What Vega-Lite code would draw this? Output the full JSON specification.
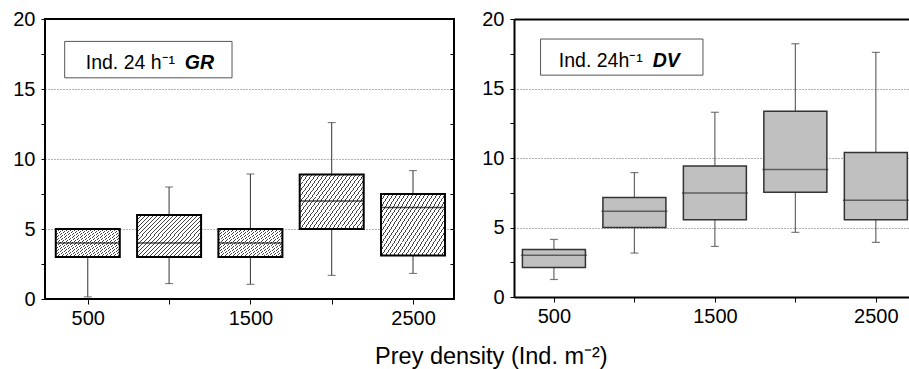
{
  "$schema": "https://vega.github.io/schema/vega-lite/v6.json",
  "background": "white",
  "padding": {"left": 11, "top": 8, "right": 0, "bottom": 0},
  "spacing": 25,
  "datasets": {
    "gr": [
      {"density": 500, "min": 0.15, "q1": 3.0, "median": 4.0, "q3": 5.0, "max": 5.0},
      {"density": 1000, "min": 1.1, "q1": 3.0, "median": 4.0, "q3": 6.0, "max": 8.0},
      {"density": 1500, "min": 1.05, "q1": 3.0, "median": 4.0, "q3": 5.0, "max": 8.93},
      {"density": 2000, "min": 1.69, "q1": 5.0, "median": 7.0, "q3": 8.9, "max": 12.6},
      {"density": 2500, "min": 1.83, "q1": 3.1, "median": 6.53, "q3": 7.5, "max": 9.17}
    ],
    "dv": [
      {"density": 500, "min": 1.26, "q1": 2.12, "median": 3.0, "q3": 3.42, "max": 4.14},
      {"density": 1000, "min": 3.16, "q1": 5.0, "median": 6.17, "q3": 7.15, "max": 8.95},
      {"density": 1500, "min": 3.64, "q1": 5.56, "median": 7.49, "q3": 9.42, "max": 13.29},
      {"density": 2000, "min": 4.65, "q1": 7.54, "median": 9.17, "q3": 13.36, "max": 18.22},
      {"density": 2500, "min": 3.93, "q1": 5.56, "median": 6.96, "q3": 10.4, "max": 17.6}
    ]
  },
  "title": {
    "text": "Prey density (Ind. m⁻²)",
    "orient": "bottom",
    "anchor": "middle",
    "font": "Liberation Sans",
    "fontSize": 23.5,
    "fontWeight": "normal",
    "color": "black",
    "offset": 16,
    "dx": 31
  },
  "hconcat": [
    {
      "width": 409,
      "height": 280,
      "data": {"name": "gr"},
      "view": {"stroke": "black", "strokeWidth": 2},
      "resolve": {"axis": {"x": "independent", "y": "independent"}},
      "layer": [
        {
          "mark": {"type": "rule", "color": "#333", "strokeWidth": 1},
          "encoding": {
            "x": {"field": "density", "type": "quantitative", "scale": {"domain": [237, 2752], "nice": false, "zero": false, "padding": 0}, "axis": null},
            "y": {"field": "min", "type": "quantitative", "scale": {"domain": [0, 20], "nice": false, "padding": 0}, "axis": null},
            "y2": {"field": "q1"}
          }
        },
        {
          "mark": {"type": "rule", "color": "#333", "strokeWidth": 1},
          "encoding": {
            "x": {"field": "density", "type": "quantitative", "scale": {"domain": [237, 2752], "nice": false, "zero": false, "padding": 0}, "axis": null},
            "y": {"field": "q3", "type": "quantitative", "scale": {"domain": [0, 20], "nice": false, "padding": 0},
              "axis": {"orient": "right", "values": [0, 2.5, 5, 7.5, 10, 12.5, 15, 17.5, 20], "labels": false, "domain": false, "grid": false, "tickSize": -4, "title": null}},
            "y2": {"field": "max"}
          }
        },
        {
          "mark": {"type": "tick", "orient": "horizontal", "size": 8, "thickness": 1, "color": "#333"},
          "encoding": {
            "x": {"field": "density", "type": "quantitative", "scale": {"domain": [237, 2752], "nice": false, "zero": false, "padding": 0}, "axis": null},
            "y": {"field": "min", "type": "quantitative", "scale": {"domain": [0, 20], "nice": false, "padding": 0}, "axis": null}
          }
        },
        {
          "mark": {"type": "tick", "orient": "horizontal", "size": 8, "thickness": 1, "color": "#333"},
          "encoding": {
            "x": {"field": "density", "type": "quantitative", "scale": {"domain": [237, 2752], "nice": false, "zero": false, "padding": 0}, "axis": null},
            "y": {"field": "max", "type": "quantitative", "scale": {"domain": [0, 20], "nice": false, "padding": 0}, "axis": null}
          }
        },
        {
          "mark": {
            "type": "bar",
            "size": 64,
            "stroke": "black",
            "strokeWidth": 2,
            "fill": {
              "gradient": "linear", "x1": 0, "y1": 0, "x2": 1.168, "y2": 0.73,
              "stops": [
                {"offset": 0, "color": "#444"}, {"offset": 0.0096, "color": "#444"}, {"offset": 0.0096, "color": "#fff"}, {"offset": 0.03846, "color": "#fff"},
                {"offset": 0.03846, "color": "#444"}, {"offset": 0.04806, "color": "#444"}, {"offset": 0.04806, "color": "#fff"}, {"offset": 0.07692, "color": "#fff"},
                {"offset": 0.07692, "color": "#444"}, {"offset": 0.08652, "color": "#444"}, {"offset": 0.08652, "color": "#fff"}, {"offset": 0.11538, "color": "#fff"},
                {"offset": 0.11538, "color": "#444"}, {"offset": 0.12498, "color": "#444"}, {"offset": 0.12498, "color": "#fff"}, {"offset": 0.15385, "color": "#fff"},
                {"offset": 0.15385, "color": "#444"}, {"offset": 0.16345, "color": "#444"}, {"offset": 0.16345, "color": "#fff"}, {"offset": 0.19231, "color": "#fff"},
                {"offset": 0.19231, "color": "#444"}, {"offset": 0.20191, "color": "#444"}, {"offset": 0.20191, "color": "#fff"}, {"offset": 0.23077, "color": "#fff"},
                {"offset": 0.23077, "color": "#444"}, {"offset": 0.24037, "color": "#444"}, {"offset": 0.24037, "color": "#fff"}, {"offset": 0.26923, "color": "#fff"},
                {"offset": 0.26923, "color": "#444"}, {"offset": 0.27883, "color": "#444"}, {"offset": 0.27883, "color": "#fff"}, {"offset": 0.30769, "color": "#fff"},
                {"offset": 0.30769, "color": "#444"}, {"offset": 0.31729, "color": "#444"}, {"offset": 0.31729, "color": "#fff"}, {"offset": 0.34615, "color": "#fff"},
                {"offset": 0.34615, "color": "#444"}, {"offset": 0.35575, "color": "#444"}, {"offset": 0.35575, "color": "#fff"}, {"offset": 0.38462, "color": "#fff"},
                {"offset": 0.38462, "color": "#444"}, {"offset": 0.39422, "color": "#444"}, {"offset": 0.39422, "color": "#fff"}, {"offset": 0.42308, "color": "#fff"},
                {"offset": 0.42308, "color": "#444"}, {"offset": 0.43268, "color": "#444"}, {"offset": 0.43268, "color": "#fff"}, {"offset": 0.46154, "color": "#fff"},
                {"offset": 0.46154, "color": "#444"}, {"offset": 0.47114, "color": "#444"}, {"offset": 0.47114, "color": "#fff"}, {"offset": 0.5, "color": "#fff"},
                {"offset": 0.5, "color": "#444"}, {"offset": 0.5096, "color": "#444"}, {"offset": 0.5096, "color": "#fff"}, {"offset": 0.53846, "color": "#fff"},
                {"offset": 0.53846, "color": "#444"}, {"offset": 0.54806, "color": "#444"}, {"offset": 0.54806, "color": "#fff"}, {"offset": 0.57692, "color": "#fff"},
                {"offset": 0.57692, "color": "#444"}, {"offset": 0.58652, "color": "#444"}, {"offset": 0.58652, "color": "#fff"}, {"offset": 0.61538, "color": "#fff"},
                {"offset": 0.61538, "color": "#444"}, {"offset": 0.62498, "color": "#444"}, {"offset": 0.62498, "color": "#fff"}, {"offset": 0.65385, "color": "#fff"},
                {"offset": 0.65385, "color": "#444"}, {"offset": 0.66345, "color": "#444"}, {"offset": 0.66345, "color": "#fff"}, {"offset": 0.69231, "color": "#fff"},
                {"offset": 0.69231, "color": "#444"}, {"offset": 0.70191, "color": "#444"}, {"offset": 0.70191, "color": "#fff"}, {"offset": 0.73077, "color": "#fff"},
                {"offset": 0.73077, "color": "#444"}, {"offset": 0.74037, "color": "#444"}, {"offset": 0.74037, "color": "#fff"}, {"offset": 0.76923, "color": "#fff"},
                {"offset": 0.76923, "color": "#444"}, {"offset": 0.77883, "color": "#444"}, {"offset": 0.77883, "color": "#fff"}, {"offset": 0.80769, "color": "#fff"},
                {"offset": 0.80769, "color": "#444"}, {"offset": 0.81729, "color": "#444"}, {"offset": 0.81729, "color": "#fff"}, {"offset": 0.84615, "color": "#fff"},
                {"offset": 0.84615, "color": "#444"}, {"offset": 0.85575, "color": "#444"}, {"offset": 0.85575, "color": "#fff"}, {"offset": 0.88462, "color": "#fff"},
                {"offset": 0.88462, "color": "#444"}, {"offset": 0.89422, "color": "#444"}, {"offset": 0.89422, "color": "#fff"}, {"offset": 0.92308, "color": "#fff"},
                {"offset": 0.92308, "color": "#444"}, {"offset": 0.93268, "color": "#444"}, {"offset": 0.93268, "color": "#fff"}, {"offset": 0.96154, "color": "#fff"},
                {"offset": 0.96154, "color": "#444"}, {"offset": 0.97114, "color": "#444"}, {"offset": 0.97114, "color": "#fff"}, {"offset": 1, "color": "#fff"}
              ]
            }
          },
          "encoding": {
            "x": {"field": "density", "type": "quantitative", "scale": {"domain": [237, 2752], "nice": false, "zero": false, "padding": 0},
              "axis": {"values": [500, 1000, 1500, 2000, 2500], "labelExpr": "datum.value % 1000 === 500 ? datum.label : ''", "format": "d", "tickSize": 5, "labelPadding": 4, "grid": false, "domain": false, "title": null, "labelFlush": false, "labelOverlap": false}},
            "y": {"field": "q1", "type": "quantitative", "scale": {"domain": [0, 20], "nice": false, "padding": 0},
              "axis": {"values": [0, 2.5, 5, 7.5, 10, 12.5, 15, 17.5, 20], "labelExpr": "datum.value % 5 === 0 ? datum.label : ''", "tickSize": 4, "labelPadding": 6, "domain": false, "title": null, "labelFlush": false, "labelOverlap": false,
                "grid": true, "gridDash": [1, 2], "gridColor": "#666",
                "gridOpacity": {"condition": {"test": "datum.value % 5 === 0 && datum.value > 0 && datum.value < 20", "value": 1}, "value": 0}}},
            "y2": {"field": "q3"}
          }
        },
        {
          "mark": {"type": "tick", "orient": "horizontal", "size": 64, "thickness": 1.5, "color": "black"},
          "encoding": {
            "x": {"field": "density", "type": "quantitative", "scale": {"domain": [237, 2752], "nice": false, "zero": false, "padding": 0}, "axis": null},
            "y": {"field": "median", "type": "quantitative", "scale": {"domain": [0, 20], "nice": false, "padding": 0}, "axis": null}
          }
        },
        {
          "data": {"values": [{}]},
          "mark": {"type": "rect", "fill": "white", "stroke": "#555", "strokeWidth": 1},
          "encoding": {
            "x": {"datum": 358, "type": "quantitative", "scale": {"domain": [237, 2752], "nice": false, "zero": false, "padding": 0}, "axis": null},
            "x2": {"datum": 1387},
            "y": {"datum": 18.4, "type": "quantitative", "scale": {"domain": [0, 20], "nice": false, "padding": 0}, "axis": null},
            "y2": {"datum": 15.8}
          }
        },
        {
          "data": {"values": [{}]},
          "mark": {"type": "text", "text": "Ind. 24 h⁻¹", "align": "right", "baseline": "alphabetic", "font": "Liberation Sans", "fontSize": 19.5, "color": "black"},
          "encoding": {
            "x": {"datum": 1037, "type": "quantitative", "scale": {"domain": [237, 2752], "nice": false, "zero": false, "padding": 0}, "axis": null},
            "y": {"datum": 16.44, "type": "quantitative", "scale": {"domain": [0, 20], "nice": false, "padding": 0}, "axis": null}
          }
        },
        {
          "data": {"values": [{}]},
          "mark": {"type": "text", "text": "GR", "align": "left", "baseline": "alphabetic", "font": "Liberation Sans", "fontSize": 19.5, "fontStyle": "italic", "fontWeight": "bold", "color": "black"},
          "encoding": {
            "x": {"datum": 1097, "type": "quantitative", "scale": {"domain": [237, 2752], "nice": false, "zero": false, "padding": 0}, "axis": null},
            "y": {"datum": 16.44, "type": "quantitative", "scale": {"domain": [0, 20], "nice": false, "padding": 0}, "axis": null}
          }
        }
      ]
    },
    {
      "width": 395,
      "height": 278,
      "data": {"name": "dv"},
      "view": {"stroke": null},
      "resolve": {"axis": {"x": "independent", "y": "independent"}},
      "layer": [
        {
          "mark": {"type": "rule", "color": "#666", "strokeWidth": 1.2},
          "encoding": {
            "x": {"field": "density", "type": "quantitative", "scale": {"domain": [252, 2706], "nice": false, "zero": false, "padding": 0}, "axis": null},
            "y": {"field": "min", "type": "quantitative", "scale": {"domain": [0, 20], "nice": false, "padding": 0}, "axis": null},
            "y2": {"field": "q1"}
          }
        },
        {
          "mark": {"type": "rule", "color": "#666", "strokeWidth": 1.2},
          "encoding": {
            "x": {"field": "density", "type": "quantitative", "scale": {"domain": [252, 2706], "nice": false, "zero": false, "padding": 0}, "axis": null},
            "y": {"field": "q3", "type": "quantitative", "scale": {"domain": [0, 20], "nice": false, "padding": 0}, "axis": null},
            "y2": {"field": "max"}
          }
        },
        {
          "mark": {"type": "tick", "orient": "horizontal", "size": 8, "thickness": 1.2, "color": "#444"},
          "encoding": {
            "x": {"field": "density", "type": "quantitative", "scale": {"domain": [252, 2706], "nice": false, "zero": false, "padding": 0}, "axis": null},
            "y": {"field": "min", "type": "quantitative", "scale": {"domain": [0, 20], "nice": false, "padding": 0}, "axis": null}
          }
        },
        {
          "mark": {"type": "tick", "orient": "horizontal", "size": 8, "thickness": 1.2, "color": "#444"},
          "encoding": {
            "x": {"field": "density", "type": "quantitative", "scale": {"domain": [252, 2706], "nice": false, "zero": false, "padding": 0},
              "axis": {"orient": "top", "labels": false, "ticks": false, "grid": false, "domain": true, "domainColor": "black", "domainWidth": 2, "title": null}},
            "y": {"field": "max", "type": "quantitative", "scale": {"domain": [0, 20], "nice": false, "padding": 0}, "axis": null}
          }
        },
        {
          "mark": {"type": "bar", "size": 63, "fill": "#c0c0c0", "stroke": "#333", "strokeWidth": 1.5},
          "encoding": {
            "x": {"field": "density", "type": "quantitative", "scale": {"domain": [252, 2706], "nice": false, "zero": false, "padding": 0},
              "axis": {"values": [500, 1000, 1500, 2000, 2500], "labelExpr": "datum.value % 1000 === 500 ? datum.label : ''", "format": "d", "tickSize": 5, "labelPadding": 4, "grid": false, "domain": true, "domainColor": "black", "domainWidth": 2, "title": null, "labelFlush": false, "labelOverlap": false}},
            "y": {"field": "q1", "type": "quantitative", "scale": {"domain": [0, 20], "nice": false, "padding": 0},
              "axis": {"values": [0, 2.5, 5, 7.5, 10, 12.5, 15, 17.5, 20], "labelExpr": "datum.value % 5 === 0 ? datum.label : ''", "tickSize": 4, "labelPadding": 6, "domain": true, "domainColor": "black", "domainWidth": 2, "title": null, "labelFlush": false, "labelOverlap": false,
                "grid": true, "gridDash": [1, 2], "gridColor": "#666",
                "gridOpacity": {"condition": {"test": "datum.value % 5 === 0 && datum.value > 0 && datum.value < 20", "value": 1}, "value": 0}}},
            "y2": {"field": "q3"}
          }
        },
        {
          "mark": {"type": "tick", "orient": "horizontal", "size": 66, "thickness": 1.5, "color": "#333"},
          "encoding": {
            "x": {"field": "density", "type": "quantitative", "scale": {"domain": [252, 2706], "nice": false, "zero": false, "padding": 0}, "axis": null},
            "y": {"field": "median", "type": "quantitative", "scale": {"domain": [0, 20], "nice": false, "padding": 0}, "axis": null}
          }
        },
        {
          "data": {"values": [{}]},
          "mark": {"type": "rect", "fill": "white", "stroke": "#555", "strokeWidth": 1},
          "encoding": {
            "x": {"datum": 417, "type": "quantitative", "scale": {"domain": [252, 2706], "nice": false, "zero": false, "padding": 0}, "axis": null},
            "x2": {"datum": 1426},
            "y": {"datum": 18.56, "type": "quantitative", "scale": {"domain": [0, 20], "nice": false, "padding": 0}, "axis": null},
            "y2": {"datum": 15.96}
          }
        },
        {
          "data": {"values": [{}]},
          "mark": {"type": "text", "text": "Ind. 24h⁻¹", "align": "right", "baseline": "alphabetic", "font": "Liberation Sans", "fontSize": 19.5, "color": "black"},
          "encoding": {
            "x": {"datum": 1052, "type": "quantitative", "scale": {"domain": [252, 2706], "nice": false, "zero": false, "padding": 0}, "axis": null},
            "y": {"datum": 16.56, "type": "quantitative", "scale": {"domain": [0, 20], "nice": false, "padding": 0}, "axis": null}
          }
        },
        {
          "data": {"values": [{}]},
          "mark": {"type": "text", "text": "DV", "align": "left", "baseline": "alphabetic", "font": "Liberation Sans", "fontSize": 19.5, "fontStyle": "italic", "fontWeight": "bold", "color": "black"},
          "encoding": {
            "x": {"datum": 1114, "type": "quantitative", "scale": {"domain": [252, 2706], "nice": false, "zero": false, "padding": 0}, "axis": null},
            "y": {"datum": 16.56, "type": "quantitative", "scale": {"domain": [0, 20], "nice": false, "padding": 0}, "axis": null}
          }
        }
      ]
    }
  ],
  "config": {
    "font": "Liberation Sans",
    "axis": {
      "labelFont": "Liberation Sans",
      "labelFontSize": 20,
      "labelColor": "black",
      "tickColor": "black",
      "tickWidth": 1,
      "domainColor": "black"
    }
  }
}
